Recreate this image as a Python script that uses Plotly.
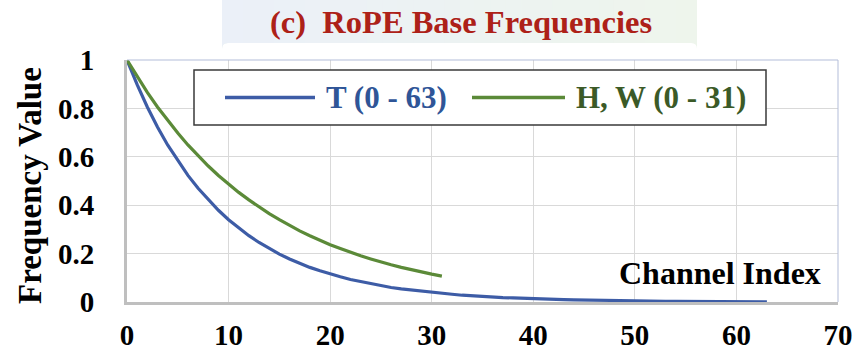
import plotly.graph_objects as go

# ---------------- data ----------------
t_index = list(range(64))
t_values = [1.000, 0.898, 0.806, 0.723, 0.649, 0.583, 0.523, 0.470, 0.422, 0.379,
            0.340, 0.305, 0.274, 0.246, 0.221, 0.198, 0.178, 0.160, 0.143, 0.129,
            0.115, 0.104, 0.093, 0.084, 0.075, 0.067, 0.060, 0.054, 0.049, 0.044,
            0.039, 0.035, 0.032, 0.028, 0.025, 0.023, 0.021, 0.018, 0.017, 0.015,
            0.013, 0.012, 0.011, 0.010, 0.009, 0.008, 0.007, 0.006, 0.006, 0.005,
            0.005, 0.004, 0.004, 0.003, 0.003, 0.003, 0.002, 0.002, 0.002, 0.002,
            0.002, 0.001, 0.001, 0.001]

hw_index = list(range(32))
hw_values = [1.000, 0.931, 0.866, 0.806, 0.750, 0.698, 0.649, 0.604, 0.562, 0.523,
             0.487, 0.453, 0.422, 0.392, 0.365, 0.340, 0.316, 0.294, 0.274, 0.255,
             0.237, 0.221, 0.205, 0.191, 0.178, 0.165, 0.154, 0.143, 0.133, 0.124,
             0.115, 0.107]

series_names = ["T (0 - 63)", "H, W (0 - 31)"]
title_text = "(c)\u00a0 RoPE Base Frequencies"
x_title = "Channel Index"
y_title = "Frequency Value"
x_ticks = [0, 10, 20, 30, 40, 50, 60, 70]
y_ticks = [0, 0.2, 0.4, 0.6, 0.8, 1]
y_tick_labels = ["0", "0.2", "0.4", "0.6", "0.8", "1"]

# ---------------- styling ----------------
W, H = 856, 354
L, R, T, B = 127, 18, 60, 52
PW, PH = W - L - R, H - T - B
FONT = "'Liberation Serif', 'Times New Roman', Times, serif"
BLUE_LINE, GREEN_LINE = "#3d5ca6", "#5b8a38"
BLUE_TXT, GREEN_TXT = "#2f5597", "#3b5a27"
TITLE_RED = "#ad2118"


def px(xp):
    return (xp - L) / PW


def py(yp):
    return (H - B - yp) / PH


fig = go.Figure()
fig.add_trace(go.Scatter(x=t_index, y=t_values, mode="lines", name=series_names[0],
                         line=dict(color=BLUE_LINE, width=3.2), showlegend=False))
fig.add_trace(go.Scatter(x=hw_index, y=hw_values, mode="lines", name=series_names[1],
                         line=dict(color=GREEN_LINE, width=3.2), showlegend=False))

shapes = []
annotations = []

# title background box (rounded, light blue -> light green gradient)
bx0, bx1, by0, by1, rad = 222, 697, 43, -1, 6


def rounded_path(x0, x1, y0, y1, r, left=True, right=True):
    X0, X1, Y0, Y1 = px(x0), px(x1), py(y0), py(y1)
    rx, ry = r / PW, r / PH
    p = ""
    if left:
        p += f"M{X0 + rx},{Y1} "
    else:
        p += f"M{X0},{Y1} "
    if right:
        p += f"L{X1 - rx},{Y1} Q{X1},{Y1} {X1},{Y1 + ry} L{X1},{Y0 - ry} Q{X1},{Y0} {X1 - rx},{Y0} "
    else:
        p += f"L{X1},{Y1} L{X1},{Y0} "
    if left:
        p += f"L{X0 + rx},{Y0} Q{X0},{Y0} {X0},{Y0 - ry} L{X0},{Y1 + ry} Q{X0},{Y1} {X0 + rx},{Y1} Z"
    else:
        p += f"L{X0},{Y0} Z"
    return p


c_left = (235, 240, 248)
c_right = (238, 245, 236)
shapes.append(dict(type="path", xref="paper", yref="paper", layer="above",
                   path=rounded_path(bx0, bx1, by0, by1, rad),
                   fillcolor="rgb(%d,%d,%d)" % c_right, line=dict(width=0)))
shapes.append(dict(type="path", xref="paper", yref="paper", layer="above",
                   path=rounded_path(bx0, 460, by0, by1, rad, right=False),
                   fillcolor="rgb(%d,%d,%d)" % c_left, line=dict(width=0)))
n = 30
sx0, sx1 = bx0 + rad, bx1 - rad
for i in range(n):
    f = (i + 0.5) / n
    col = tuple(round(c_left[k] + (c_right[k] - c_left[k]) * f) for k in range(3))
    a = sx0 + (sx1 - sx0) * i / n
    b = sx0 + (sx1 - sx0) * (i + 1) / n + 0.6
    shapes.append(dict(type="rect", xref="paper", yref="paper", layer="above",
                       x0=px(a), x1=px(b), y0=py(by0), y1=py(by1),
                       fillcolor="rgb(%d,%d,%d)" % col, line=dict(width=0)))

annotations.append(dict(text=title_text, xref="paper", yref="paper",
                        x=px(461), y=py(22), xanchor="center", yanchor="middle",
                        showarrow=False,
                        font=dict(family=FONT, size=32.5, color=TITLE_RED, weight="bold")))

# plot border (top / right thin light blue)
shapes.append(dict(type="line", xref="paper", yref="paper", x0=0, x1=1, y0=1, y1=1,
                   line=dict(color="#b3bdd9", width=1), layer="above"))
shapes.append(dict(type="line", xref="paper", yref="paper", x0=1, x1=1, y0=0, y1=1,
                   line=dict(color="#b3bdd9", width=1), layer="above"))

# legend box
lg_x0, lg_x1, lg_y0, lg_y1 = 194, 766, 125, 70
lg_yc = (lg_y0 + lg_y1) / 2
shapes.append(dict(type="rect", xref="paper", yref="paper", layer="above",
                   x0=px(lg_x0), x1=px(lg_x1), y0=py(lg_y0), y1=py(lg_y1),
                   fillcolor="white", line=dict(color="#3a3a3a", width=1.5)))
legend_items = [(225, 315, 324, BLUE_LINE, BLUE_TXT, series_names[0]),
                (472, 565, 574, GREEN_LINE, GREEN_TXT, series_names[1])]
for lx0, lx1, tx, lc, tc, name in legend_items:
    shapes.append(dict(type="line", xref="paper", yref="paper", layer="above",
                       x0=px(lx0), x1=px(lx1), y0=py(lg_yc), y1=py(lg_yc),
                       line=dict(color=lc, width=3.5)))
    annotations.append(dict(text=name, xref="paper", yref="paper",
                            x=px(tx), y=py(lg_yc), xanchor="left", yanchor="middle",
                            showarrow=False,
                            font=dict(family=FONT, size=31, color=tc, weight="bold")))

# axis titles
annotations.append(dict(text=x_title, xref="paper", yref="paper",
                        x=px(823), y=py(273), xanchor="right", yanchor="middle",
                        showarrow=False,
                        font=dict(family=FONT, size=32, color="black", weight="bold")))
annotations.append(dict(text=y_title, xref="paper", yref="paper",
                        x=px(30), y=py(186), xanchor="center", yanchor="middle",
                        textangle=-90, showarrow=False,
                        font=dict(family=FONT, size=33, color="black", weight="bold")))

tickfont = dict(family=FONT, size=29, color="black", weight="bold")
fig.update_layout(
    width=W, height=H,
    margin=dict(l=L, r=R, t=T, b=B, autoexpand=False),
    paper_bgcolor="white", plot_bgcolor="white",
    font=dict(family=FONT),
    shapes=shapes, annotations=annotations,
    xaxis=dict(range=[0, 70], tickvals=x_ticks, ticktext=[str(v) for v in x_ticks],
               showgrid=True, gridcolor="#d9d9d9", gridwidth=1,
               showline=True, linecolor="#bfbfbf", linewidth=3,
               ticks="", tickfont=tickfont, ticklabelstandoff=5, zeroline=False,
               automargin=False, fixedrange=True),
    yaxis=dict(range=[0, 1], tickvals=y_ticks, ticktext=y_tick_labels,
               showgrid=True, gridcolor="#d9d9d9", gridwidth=1,
               showline=True, linecolor="#bfbfbf", linewidth=3,
               ticks="", tickfont=tickfont, ticklabelstandoff=24, zeroline=False,
               automargin=False, fixedrange=True),
)

fig.write_html("out.html")
